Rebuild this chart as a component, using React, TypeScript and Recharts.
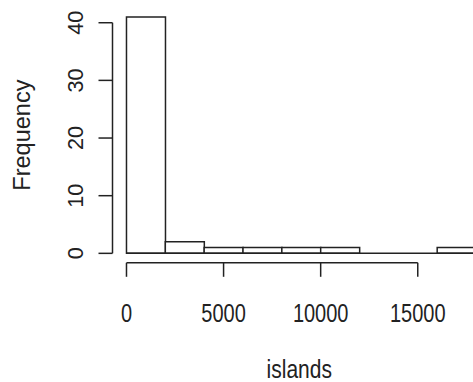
import { ComposedChart, Bar, XAxis, YAxis, ReferenceLine } from "recharts";

// islands histogram, bins of 2000
const binStarts = [0, 2000, 4000, 6000, 8000, 10000, 12000, 14000, 16000];
const binWidth = 2000;
const counts = [41, 2, 1, 1, 1, 1, 0, 0, 1];
const xTicks = [0, 5000, 10000, 15000];
const yTicks = [0, 10, 20, 30, 40];
const xTitle = "islands";
const yTitle = "Frequency";

const data = binStarts.map((start, i) => ({
  mid: start + binWidth / 2,
  count: counts[i],
}));

const font = "'Liberation Sans', Arial, sans-serif";
const ink = "#222";

// text in the reference is a bit taller than wide
const XTick = ({ x, y, payload }: any) => (
  <text
    transform={`translate(${x} ${y + 35}) scale(1 1.25)`}
    textAnchor="middle"
    dominantBaseline="central"
    fontFamily={font}
    fontSize={20}
    fill={ink}
  >
    {payload.value}
  </text>
);

const YTick = ({ x, y, payload }: any) => (
  <text
    transform={`translate(${x - 21.5} ${y}) rotate(-90) scale(1.08 1.12)`}
    textAnchor="middle"
    dominantBaseline="central"
    fontFamily={font}
    fontSize={20}
    fill={ink}
  >
    {payload.value}
  </text>
);

const XTitle = ({ viewBox }: any) => (
  <text
    transform={`translate(${viewBox.x + viewBox.width / 2 - 2} ${viewBox.y + viewBox.height - 4}) scale(1 1.2)`}
    textAnchor="middle"
    fontFamily={font}
    fontSize={21}
    fill={ink}
  >
    {xTitle}
  </text>
);

const YTitle = ({ viewBox }: any) => (
  <text
    transform={`translate(22 ${viewBox.y + viewBox.height / 2}) rotate(-90) scale(1.12 1.12)`}
    textAnchor="middle"
    dominantBaseline="central"
    fontFamily={font}
    fontSize={21}
    fill={ink}
  >
    {yTitle}
  </text>
);

export default function App() {
  const xMin = -720;
  const xMax = 18720;
  const yMin = -1.64;
  const yMax = 42.64;

  return (
    <div
      style={{
        position: "fixed",
        left: 0,
        top: 0,
        width: 473,
        height: 382,
        overflow: "hidden",
        background: "#fff",
      }}
    >
      <ComposedChart
        width={490}
        height={382}
        data={data}
        barCategoryGap={0}
        margin={{ top: 7.5, right: 0, bottom: 0, left: 0 }}
      >
        <XAxis
          dataKey="mid"
          type="number"
          domain={[xMin, xMax]}
          ticks={xTicks}
          allowDataOverflow
          height={119.2}
          axisLine={false}
          tickSize={14}
          tickLine={{ stroke: ink, strokeWidth: 1.5 }}
          tick={<XTick />}
          interval={0}
          label={<XTitle />}
        />
        <YAxis
          type="number"
          domain={[yMin, yMax]}
          ticks={yTicks}
          allowDataOverflow
          width={112.5}
          axisLine={false}
          tickSize={14}
          tickLine={{ stroke: ink, strokeWidth: 1.5 }}
          tick={<YTick />}
          interval={0}
          label={<YTitle />}
        />
        <Bar
          dataKey="count"
          fill="#fff"
          stroke={ink}
          strokeWidth={1.5}
          isAnimationActive={false}
        />
        <ReferenceLine
          segment={[
            { x: binStarts[0], y: 0 },
            { x: binStarts[binStarts.length - 1] + binWidth, y: 0 },
          ]}
          stroke={ink}
          strokeWidth={1.5}
          ifOverflow="visible"
        />
        <ReferenceLine
          segment={[
            { x: xMin, y: yTicks[0] },
            { x: xMin, y: yTicks[yTicks.length - 1] },
          ]}
          stroke={ink}
          strokeWidth={1.5}
          ifOverflow="visible"
        />
        <ReferenceLine
          segment={[
            { x: xTicks[0], y: yMin },
            { x: xTicks[xTicks.length - 1], y: yMin },
          ]}
          stroke={ink}
          strokeWidth={1.5}
          ifOverflow="visible"
        />
      </ComposedChart>
    </div>
  );
}
